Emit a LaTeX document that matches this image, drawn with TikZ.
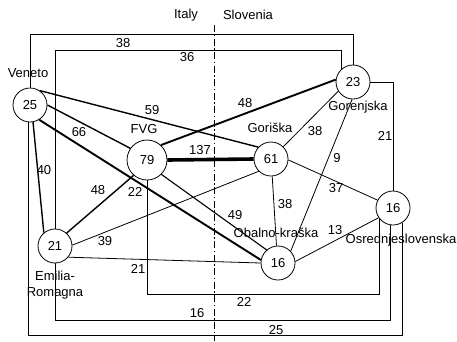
\documentclass[tikz,border=0pt]{standalone}
\usepackage{fontspec}
\setmainfont{Liberation Sans}
\begin{document}
\begin{tikzpicture}[x=1pt,y=-1pt,
  every node/.style={font=\fontsize{13}{16}\selectfont},
  reg/.style={draw,circle,minimum size=34pt,inner sep=0pt,line width=0.8pt},
  big/.style={reg,minimum size=40pt},
  lbl/.style={inner sep=0.5pt},
  wthin/.style={line width=0.8pt},
  wfo/.style={line width=1.1pt},
  wmed/.style={line width=1.4pt},
  wthick/.style={line width=1.9pt},
  wvthick/.style={line width=3.6pt},
  route/.style={line width=0.8pt},
  border/.style={line width=0.9pt,dash pattern=on 7pt off 2.5pt on 1.5pt off 2.5pt}]
\useasboundingbox (0,0) rectangle (457,341);

% country border
\coordinate (bt) at (214,25);
\coordinate (bb) at (214,341);
\draw[border] (bt) -- (bb);
\node (titaly) at (186,15) {Italy};
\node (tslo) at (248,15) {Slovenia};

% regions
\node[reg] (ven) at (30,105) {25};
\node[big] (fvg) at (147,160) {79};
\node[reg] (gor) at (271,159) {61};
\node[reg] (gnj) at (353,82) {23};
\node[reg] (osr) at (393,208) {16};
\node[reg] (obk) at (278,263) {16};
\node[reg] (emr) at (55,246) {21};

\node (tven) at (28,73) {Veneto};
\node (tfvg) at (144,129) {FVG};
\node (tgor) at (270,128) {Goriška};
\node (tgnj) at (358,107) {Gorenjska};
\node (tosr) at (401,240) {Osrednjeslovenska};
\node (tobk) at (276,233) {Obalno-kraška};
\node[align=center] (temr) at (55,285) {Emilia-\\Romagna};

% routing levels
\coordinate (lvA) at (0,34);
\coordinate (lvB) at (0,50);
\coordinate (lvC) at (0,335);
\coordinate (lvD) at (0,320);
\coordinate (lvE) at (0,294);

% orthogonal routes
\draw[route] (ven.north) -- (ven.north |- lvA) -- (gnj.north |- lvA) -- (gnj.north);
\draw[route] (emr.north) -- (emr.north |- lvB) -- (gnj.130 |- lvB) -- (gnj.130);
\draw[route] (gnj.east) -| (osr.north);
\draw[route] (ven.-95) -- (ven.-95 |- lvC) -- (osr.-58 |- lvC) -- (osr.-58);
\draw[route] (emr.south) -- (emr.south |- lvD) -- (osr.-97 |- lvD) -- (osr.-97);
\draw[route] (fvg.south) -- (fvg.south |- lvE) -- (osr.220 |- lvE) -- (osr.220);

% straight connections
\draw[wmed] (ven.56) -- (gor.137);
\draw[wmed] (ven.0) -- (fvg.145);
\draw[wthick] (ven.-58) -- (obk.170);
\draw[wmed] (ven.-80) -- (emr.130);
\draw[wmed] (fvg.-131) -- (emr.48);
\draw[wthin] (emr.3) -- (gor.225);
\draw[wthin] (emr.-40) -- (obk.180);
\draw[wvthick] (fvg.0) -- (gor.180);
\draw[wthick] (fvg.47) -- (gnj.172);
\draw[wfo] (fvg.-45) -- (obk.131);
\draw[wthin] (gor.45) -- (gnj.212);
\draw[wthin] (gnj.-93) -- (obk.43);
\draw[wthin] (gor.-86) -- (obk.95);
\draw[wthin] (gor.-3) -- (osr.153);
\draw[wthin] (obk.5) -- (osr.214);

% edge labels
\node[lbl] (l38a) at (123,43) {38};
\node[lbl] (l36) at (187,57) {36};
\node[lbl] (l59) at (152,110) {59};
\node[lbl] (l66) at (79,132) {66};
\node[lbl] (l40) at (44,170) {40};
\node[lbl] (l48a) at (98,190) {48};
\node[lbl] (l22a) at (135,192) {22};
\node[lbl] (l39) at (105,241) {39};
\node[lbl] (l21a) at (138,269) {21};
\node[lbl] (l137) at (200,150) {137};
\node[lbl] (l48b) at (245,103) {48};
\node[lbl] (l38b) at (315,131) {38};
\node[lbl] (l9) at (337,158) {9};
\node[lbl] (l37) at (336,188) {37};
\node[lbl] (l38c) at (285,204) {38};
\node[lbl] (l49) at (235,215) {49};
\node[lbl] (l13) at (335,230) {13};
\node[lbl] (l21b) at (385,136) {21};
\node[lbl] (l22b) at (244,302) {22};
\node[lbl] (l16) at (197,313) {16};
\node[lbl] (l25) at (276,330) {25};
\end{tikzpicture}
\end{document}
